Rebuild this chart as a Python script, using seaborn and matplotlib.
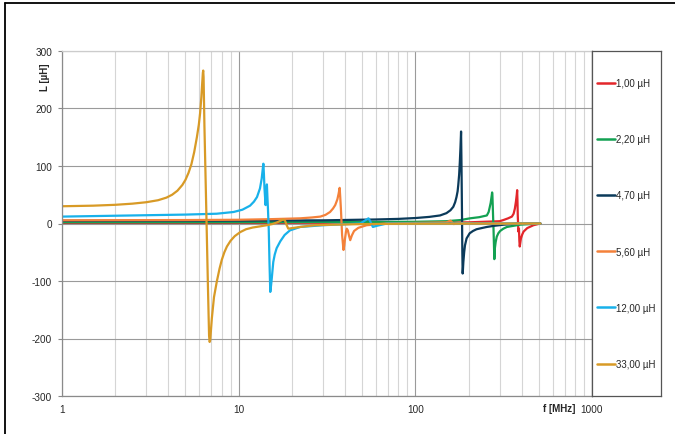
import numpy as np
import pandas as pd
import matplotlib
matplotlib.use("Agg")
import matplotlib.pyplot as plt
import matplotlib.ticker as mticker
from matplotlib.lines import Line2D
import seaborn as sns

# ---------------- data ----------------
series_labels = ["1,00 µH", "2,20 µH", "4,70 µH", "5,60 µH", "12,00 µH", "33,00 µH"]
series_colors = ["#E3262B", "#13A152", "#0B3A5A", "#F4813A", "#18B1EA", "#D89A26"]

f_1u = [1, 10, 100, 200, 300, 315, 335, 352, 360, 366, 371, 375, 377, 378.5, 380, 383, 386,
        388, 390, 393, 396, 403, 410, 430, 466, 510]
L_1u = [1, 1, 1.5, 2, 4, 6, 9, 12, 17, 26, 38, 50, 58, 40, 15, -14, -9,
        -30, -40, -33, -26, -19, -14, -8, -3, 0]

f_2u = [1, 10, 100, 150, 180, 204, 230, 254, 260, 264, 267, 269, 271, 272, 273, 274, 276,
        277, 278.5, 280, 281, 282, 285, 289, 295, 302, 315, 330, 360, 393, 510]
L_2u = [2.2, 2.2, 3, 4, 6, 9, 11, 14, 20, 29, 36, 43, 50, 54, 50, 35, 5,
        -9, -35, -62, -55, -43, -32, -23, -17, -13, -9, -6, -4, -2, 0]

f_4u = [1, 10, 30, 60, 80, 100, 120, 138, 150, 158, 164, 168, 171, 173.5, 175, 177, 178.6,
        180, 181.5, 182.3, 183, 183.8, 184.5, 185.3, 186, 187, 189, 191, 195, 203, 212, 222,
        237, 254, 280, 317, 393, 510]
L_4u = [4.7, 5, 5.5, 7, 8, 9.5, 11.5, 14, 18, 23, 29, 37, 46, 56, 67, 85, 107,
        130, 160, 115, 67, 10, -49, -87, -80, -67, -50, -38, -26, -17, -13, -10,
        -8, -6, -4, -2, 0, 0]

f_5u = [1, 5, 10, 15, 22.3, 26, 29, 31, 32.9, 34.2, 35.2, 36.2, 36.8, 37.3, 37.6, 37.9, 38.5,
        39.2, 39.6, 40.0, 40.5, 40.9, 41.5, 42.2, 42.8, 43.7, 45, 47.6, 53, 69, 100, 150,
        158, 165, 175, 250, 510]
L_5u = [5.6, 6, 6.5, 7.5, 9, 10.5, 12, 15, 20, 26, 32, 42, 52, 62, 45, 26, -20,
        -46, -38, -26, -14, -9, -12, -22, -29, -21, -13, -7.5, -3, 0, 1, 2,
        5, -1, 1, 0, 0]

f_12u = [1, 2, 3.15, 5, 7.5, 9.35, 10.5, 11.6, 12.2, 12.7, 13.2, 13.5, 13.7, 13.8, 13.9, 14.0,
         14.2, 14.35, 14.45, 14.55, 14.65, 14.8, 14.95, 15.1, 15.25, 15.4, 15.7, 16.0, 16.4,
         17.2, 18.2, 19.5, 22.3, 30, 48.8, 54.3, 55.5, 57.5, 60.6, 69, 150, 510]
L_12u = [12, 13.5, 14.5, 15.5, 17, 20, 24, 31, 38, 46, 61, 78, 96, 104, 85, 61,
         32, 55, 68, 45, 25, -10, -70, -119, -108, -95, -67, -54, -43,
         -31, -20, -12, -6, -3, 0, 9, 4, -6, -4, 0, 0, 0]

f_33u = [1, 1.5, 2, 2.5, 3, 3.5, 3.9, 4.2, 4.5, 4.8, 5.0, 5.2, 5.4, 5.6, 5.8, 5.95, 6.05,
         6.15, 6.22, 6.27, 6.30, 6.33, 6.4, 6.55, 6.7, 6.8, 6.85, 6.9, 7.05, 7.25, 7.52, 7.8,
         8.03, 8.3, 8.58, 9.0, 9.5, 10.2, 11, 12, 13.2, 14.4, 15.5, 16.5, 17.3, 17.9, 18.3,
         18.7, 19.1, 20, 22.3, 27, 35, 50, 80, 150, 300, 510]
L_33u = [30, 31, 32.5, 34.5, 37, 40.5, 45, 50, 57, 67, 76, 88, 103, 124, 150, 172, 192,
         220, 245, 262, 266, 255, 170, 30, -110, -195, -206, -203, -165, -128, -101, -78,
         -63, -50, -40, -30, -22, -15, -10, -7, -5, -3, -1, 2, 5, 7, 5,
         -3, -9, -8, -6, -3, -2, -1, -0.5, -0.3, -0.2, 0]

y_ticks = [-300, -200, -100, 0, 100, 200, 300]
x_ticks = [1, 10, 100, 1000]
x_tick_labels = ["1", "10", "100", "1000"]

series_f = [f_1u, f_2u, f_4u, f_5u, f_12u, f_33u]
series_L = [L_1u, L_2u, L_4u, L_5u, L_12u, L_33u]

rows = []
for lab, fs, Ls in zip(series_labels, series_f, series_L):
    for fv, lv in zip(fs, Ls):
        rows.append({"f": fv, "L": lv, "series": lab})
df = pd.DataFrame(rows)

# ---------------- style ----------------
sns.set_style("white")
plt.rcParams["font.family"] = ["Liberation Sans", "DejaVu Sans"]

W, H = 675, 435
fig = plt.figure(figsize=(W / 100, H / 100), dpi=100)

def fx(px):
    return px / W

def fy(py):
    return 1 - py / H

ax_l, ax_r, ax_t, ax_b = 62, 592, 52, 397
ax = fig.add_axes([fx(ax_l), fy(ax_b), (ax_r - ax_l) / W, (ax_b - ax_t) / H])

palette = dict(zip(series_labels, series_colors))
sns.lineplot(data=df, x="f", y="L", hue="series", hue_order=series_labels,
             palette=palette, estimator=None, sort=False, linewidth=1.6,
             ax=ax, legend=False)
for ln in ax.get_lines():
    ln.set_solid_joinstyle("round")

ax.set_xscale("log")
ax.set_xlim(1, 1000)
ax.set_ylim(-300, 300)
ax.set_xlabel("")
ax.set_ylabel("")

ax.set_yticks(y_ticks)
ax.set_yticklabels([str(v) for v in y_ticks])
ax.xaxis.set_major_locator(mticker.FixedLocator(x_ticks))
ax.xaxis.set_major_formatter(mticker.FixedFormatter(x_tick_labels))
ax.xaxis.set_minor_locator(mticker.LogLocator(base=10, subs=np.arange(2, 10)))
ax.xaxis.set_minor_formatter(mticker.NullFormatter())

ax.tick_params(axis="y", which="major", length=3, width=0.8, color="#888888",
               pad=4, labelsize=7.2, direction="out", left=True)
ax.tick_params(axis="x", which="both", length=0, pad=6, labelsize=7.2)

ax.grid(True, axis="y", which="major", color="#9a9a9a", linewidth=0.8)
ax.grid(True, axis="x", which="major", color="#9a9a9a", linewidth=0.8)
ax.grid(True, axis="x", which="minor", color="#d5d5d5", linewidth=0.8)
ax.set_axisbelow(True)

for side, col in [("left", "#8a8a8a"), ("bottom", "#8a8a8a"),
                  ("top", "#cccccc"), ("right", "#555555")]:
    ax.spines[side].set_color(col)
    ax.spines[side].set_linewidth(0.9)

# axis titles
fig.text(fx(45), fy(77), "L [µH]", rotation=90, ha="center", va="center",
         fontsize=7, fontweight="bold")
fig.text(fx(559), fy(409), "f [MHz]", ha="center", va="center",
         fontsize=7, fontweight="bold")

# legend box
leg_ax = fig.add_axes([fx(ax_r), fy(ax_b), (661 - ax_r) / W, (ax_b - ax_t) / H])
leg_ax.set_xticks([])
leg_ax.set_yticks([])
for s in leg_ax.spines.values():
    s.set_color("#555555")
    s.set_linewidth(0.9)
handles = [Line2D([0], [0], color=c, linewidth=1.8) for c in series_colors]
leg_ax.legend(handles, series_labels, loc="center left", bbox_to_anchor=(0, 0.5),
              frameon=False, fontsize=7, handlelength=1.85, handletextpad=0.15,
              borderaxespad=0, borderpad=0.5, labelspacing=4.75)

# outer frame (top and left edges visible)
fig.add_artist(Line2D([fx(5), fx(5)], [fy(4), 0], color="black", linewidth=1.3,
                      transform=fig.transFigure))
fig.add_artist(Line2D([fx(5), 1], [fy(4), fy(4)], color="black", linewidth=1.3,
                      transform=fig.transFigure))

fig.savefig("out.png", dpi=100)
